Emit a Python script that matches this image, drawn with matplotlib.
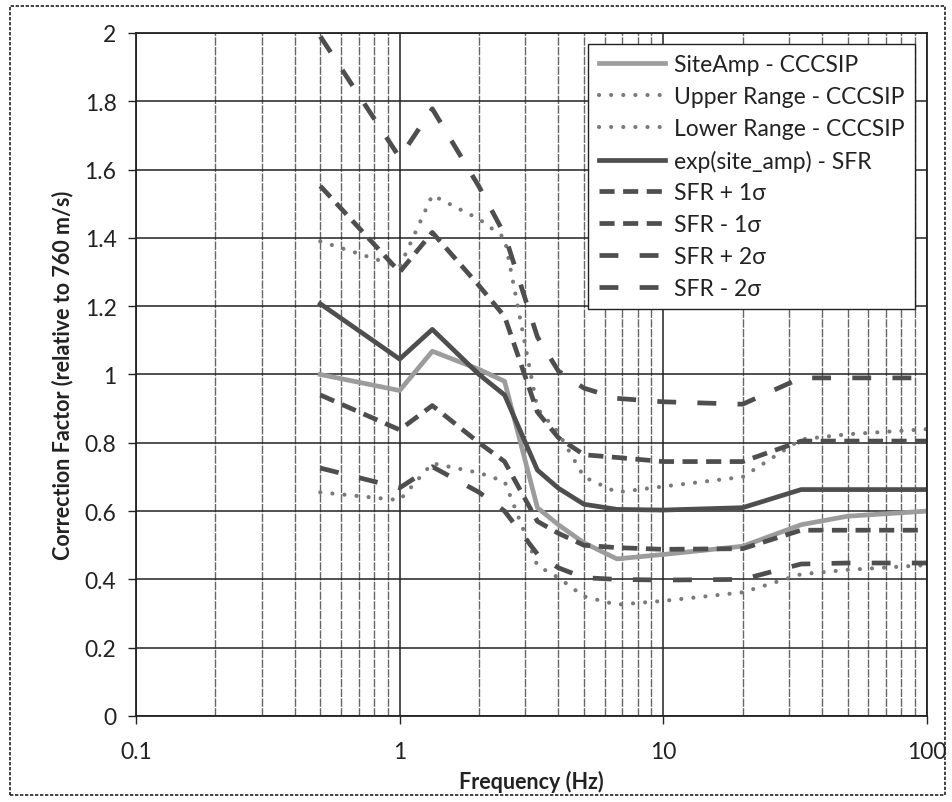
import matplotlib
matplotlib.use("Agg")
import matplotlib.pyplot as plt
from matplotlib.patches import Rectangle
from matplotlib.ticker import FixedLocator, FuncFormatter, NullFormatter, LogLocator

plt.rcParams['font.family'] = ['Lato', 'DejaVu Sans']

# frequencies (Hz)
freq = [0.5, 1, 1.33, 2, 2.5, 3.33, 4, 5, 6.67, 10, 20, 33.3, 50, 100]

site_amp = [1.00, 0.953, 1.068, 1.015, 0.98, 0.61, 0.56, 0.507, 0.46, 0.473, 0.497, 0.56, 0.585, 0.60]
upper_rng = [1.39, 1.315, 1.525, 1.455, 1.40, 0.90, 0.83, 0.70, 0.655, 0.672, 0.70, 0.81, 0.825, 0.84]
lower_rng = [0.655, 0.632, 0.74, 0.712, 0.687, 0.44, 0.405, 0.35, 0.326, 0.337, 0.362, 0.415, 0.428, 0.442]
sfr = [1.207, 1.045, 1.132, 1.00, 0.94, 0.72, 0.667, 0.62, 0.605, 0.603, 0.61, 0.663, 0.663, 0.663]
sfr_p1 = [1.552, 1.30, 1.416, 1.26, 1.17, 0.89, 0.815, 0.765, 0.757, 0.745, 0.745, 0.805, 0.805, 0.805]
sfr_m1 = [0.94, 0.838, 0.909, 0.80, 0.745, 0.57, 0.535, 0.50, 0.493, 0.488, 0.49, 0.544, 0.544, 0.544]
sfr_p2 = [1.99, 1.635, 1.778, 1.55, 1.41, 1.11, 1.01, 0.96, 0.93, 0.92, 0.913, 0.99, 0.99, 0.99]
sfr_m2 = [0.726, 0.668, 0.73, 0.655, 0.60, 0.474, 0.434, 0.405, 0.40, 0.398, 0.40, 0.445, 0.448, 0.448]

fig = plt.figure(figsize=(9.53, 8.03), dpi=100)
ax = fig.add_axes([0.1427, 0.1071, 0.830, 0.8506])

# outer chart border
fig.patches.append(Rectangle((0.0105, 0.0087), 0.981, 0.9826, transform=fig.transFigure,
                             fill=False, edgecolor='#222222', linewidth=1.2, linestyle=(0, (2, 1))))

dark = '#4e4e4e'
light = '#9c9c9c'
dots = '#7a7a7a'

ax.plot(freq, site_amp, color=light, lw=3.4, label='SiteAmp - CCCSIP')
ax.plot(freq, upper_rng, color=dots, lw=3.0, linestyle=(0, (0.01, 2.9)),
        dash_capstyle='round', label='Upper Range - CCCSIP')
ax.plot(freq, lower_rng, color=dots, lw=3.0, linestyle=(0, (0.01, 2.9)),
        dash_capstyle='round', label='Lower Range - CCCSIP')
ax.plot(freq, sfr, color=dark, lw=3.4, label='exp(site_amp) - SFR')
ax.plot(freq, sfr_p1, color=dark, lw=3.4, linestyle=(0, (3.2, 1.8)), label='SFR + 1σ')
ax.plot(freq, sfr_m1, color=dark, lw=3.4, linestyle=(0, (3.2, 1.8)), label='SFR - 1σ')
ax.plot(freq, sfr_p2, color=dark, lw=3.4, linestyle=(0, (4.0, 4.5)), label='SFR + 2σ')
ax.plot(freq, sfr_m2, color=dark, lw=3.4, linestyle=(0, (4.0, 4.5)), label='SFR - 2σ')

ax.set_xscale('log')
ax.set_xlim(0.1, 100)
ax.set_ylim(0, 2)

ax.xaxis.set_major_locator(FixedLocator([0.1, 1, 10, 100]))
ax.xaxis.set_major_formatter(FuncFormatter(lambda v, p: f"{v:g}"))
ax.xaxis.set_minor_locator(LogLocator(base=10, subs=range(2, 10)))
ax.xaxis.set_minor_formatter(NullFormatter())
ax.set_yticks([i * 0.2 for i in range(11)])
ax.yaxis.set_major_formatter(FuncFormatter(lambda v, p: f"{round(v, 1):g}"))

ax.grid(True, which='major', axis='both', color='#222222', linewidth=1.1)
ax.grid(True, which='minor', axis='x', color='#666666', linewidth=1.0, linestyle=(0, (6, 1)))
ax.set_axisbelow(True)

ax.tick_params(axis='both', which='major', direction='out', length=6, width=1, labelsize=16.5,
               colors='#222222', pad=8)
ax.tick_params(axis='x', which='major', pad=12)
ax.tick_params(axis='x', which='minor', length=0)
for s in ax.spines.values():
    s.set_linewidth(1.3)
    s.set_color('#222222')

ax.set_xlabel('Frequency (Hz)', fontsize=15.5, fontweight='bold', labelpad=6, color='#222222')
ax.set_ylabel('Correction Factor (relative to 760 m/s)', fontsize=15.5, fontweight='bold',
              labelpad=8, color='#222222')

leg = ax.legend(loc='upper right', bbox_to_anchor=(0.985, 0.984), borderaxespad=0,
                fontsize=16.5, frameon=True, fancybox=False, framealpha=1,
                edgecolor='#222222', handlelength=2.9, labelspacing=0.47,
                handletextpad=0.4, borderpad=0.45)
leg.get_frame().set_linewidth(1.0)
for t in leg.get_texts():
    t.set_color('#222222')

fig.savefig('out.png', dpi=100)
